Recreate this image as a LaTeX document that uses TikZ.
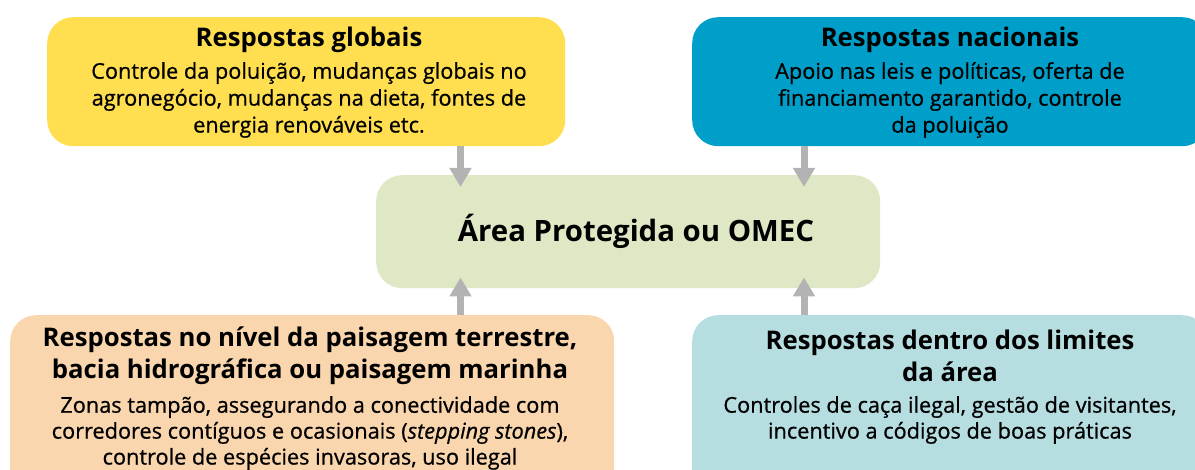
\documentclass[tikz,border=0pt]{standalone}
\usepackage{fontspec}
\setmainfont{Open Sans}[UprightFeatures={FakeBold=0.7}, ItalicFeatures={FakeBold=0.7}]
\usetikzlibrary{arrows.meta}
\definecolor{cyel}{HTML}{FFDF4F}
\definecolor{cblu}{HTML}{009FC9}
\definecolor{cgrn}{HTML}{DFE8C4}
\definecolor{corg}{HTML}{FAD6AE}
\definecolor{cteal}{HTML}{B6DEE1}
\definecolor{cgray}{HTML}{B3B3B3}
\tikzset{
  box/.style={draw=none, rounded corners=26bp, inner sep=0pt, anchor=north west},
  ttl/.style={font=\fontsize{25.8}{32}\selectfont\bfseries, align=center, inner sep=0pt},
  bdy/.style={font=\fontsize{21.8}{27}\selectfont, align=center, inner sep=0pt},
  bdyb/.style={font=\fontsize{21.8}{26}\selectfont, align=center, inner sep=0pt},
  ctr/.style={font=\fontsize{29.5}{32}\selectfont\bfseries, align=center, inner sep=0pt},
  arr/.style={draw=cgray, line width=7bp, -{Triangle[length=19bp, width=21bp]}}
}
\begin{document}
\begin{tikzpicture}[x=1bp, y=-1bp]
\useasboundingbox (0,0) rectangle (1195,470);
\begin{scope}
\clip (0,0) rectangle (1195,470);
% boxes
\node[box, fill=cyel, minimum width=518bp, minimum height=129bp] (yel) at (47,17) {};
\node[box, fill=cblu, minimum width=516bp, minimum height=129bp] (blu) at (692,17) {};
\node[box, fill=cgrn, minimum width=504bp, minimum height=113bp] (grn) at (376,175) {};
\node[box, fill=corg, minimum width=604bp, minimum height=190bp] (org) at (10,315) {};
\node[box, fill=cteal, minimum width=516bp, minimum height=190bp] (teal) at (692,315) {};
\end{scope}
% texts
\node[ttl] (yt) at (309,40) {Respostas globais};
\node[bdy] (yb) at (309,100) {Controle da poluição, mudanças globais no\\agronegócio, mudanças na dieta, fontes de\\energia renováveis etc.};
\node[ttl] (bt) at (950,40) {Respostas nacionais};
\node[bdy] (bb) at (950,100) {Apoio nas leis e políticas, oferta de\\financiamento garantido, controle\\da poluição};
\node[ctr] (ct) at (636,231) {Área Protegida ou OMEC};
\node[ttl] (ot) at (310,356) {Respostas no nível da paisagem terrestre,\\bacia hidrográfica ou paisagem marinha};
\node[bdyb] (ob) at (310,433) {Zonas tampão, assegurando a conectividade com\\corredores contíguos e ocasionais (\textit{stepping stones}),\\controle de espécies invasoras, uso ilegal};
\node[ttl] (tt) at (950,356) {Respostas dentro dos limites\\da área};
\node[bdyb] (tb) at (950,420) {Controles de caça ilegal, gestão de visitantes,\\incentivo a códigos de boas práticas};
% arrows
\coordinate (cl) at (460.5,0);
\coordinate (cr) at (804,0);
\draw[arr] (yel.south -| cl) -- ([yshift=-12bp]grn.north -| cl);
\draw[arr] (blu.south -| cr) -- ([yshift=-12bp]grn.north -| cr);
\draw[arr] (org.north -| cl) -- ([yshift=11bp]grn.south -| cl);
\draw[arr] (teal.north -| cr) -- ([yshift=11bp]grn.south -| cr);
\end{tikzpicture}
\end{document}
